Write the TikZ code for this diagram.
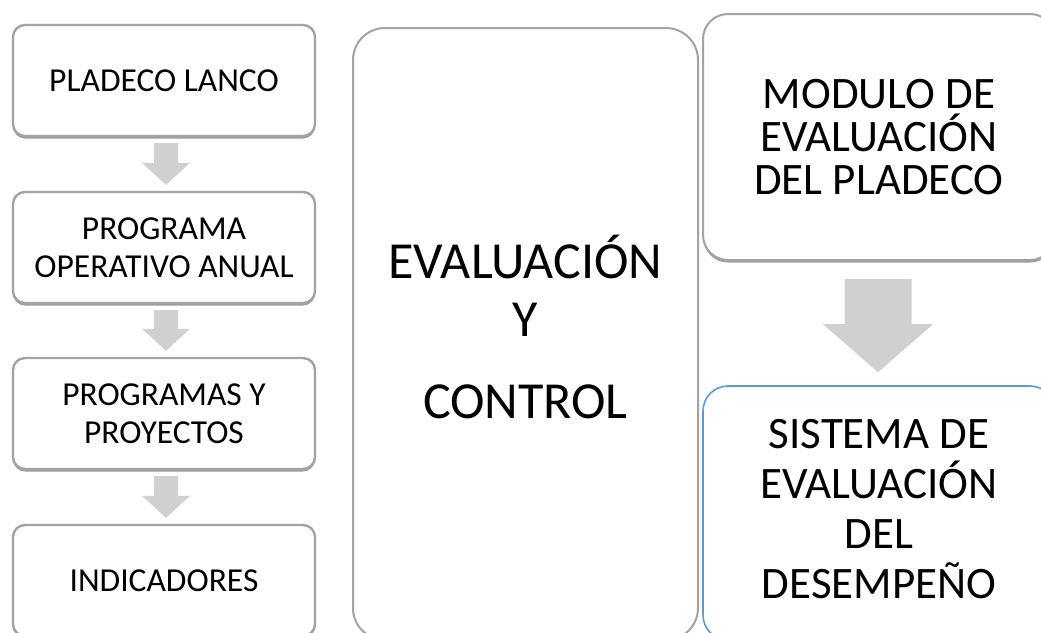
\documentclass[tikz,border=0pt]{standalone}
\usepackage{fontspec}
\setmainfont{Carlito}
\usetikzlibrary{calc,shadows}
\definecolor{boxgray}{RGB}{163,163,163}
\definecolor{arrowgray}{RGB}{208,208,208}
\definecolor{boxblue}{RGB}{91,155,213}
\tikzset{
  shad/.style={drop shadow={shadow xshift=0pt,shadow yshift=-2.5pt,fill=black!38,opacity=1}},
  leftbox/.style={draw=boxgray, line width=2.4pt, fill=white, rounded corners=12pt,
    minimum width=302pt, minimum height=111pt, inner sep=0pt, align=center,
    font=\fontsize{33.5}{38}\selectfont, shad},
  midbox/.style={draw=boxgray, line width=2pt, fill=white, rounded corners=32pt,
    minimum width=345pt, minimum height=612pt, inner sep=0pt},
  midtext/.style={align=center, inner sep=0pt, font=\fontsize{52}{58}\selectfont},
  rtbox/.style={draw=boxgray, line width=2pt, fill=white, rounded corners=25pt,
    minimum width=352pt, minimum height=246pt, inner sep=0pt, align=center,
    font=\fontsize{45}{43}\selectfont, shad},
  rbbox/.style={draw=boxblue, line width=1.6pt, fill=white, rounded corners=25pt,
    minimum width=352pt, minimum height=254pt, inner sep=0pt, align=center,
    font=\fontsize{45}{50}\selectfont},
  blockarrow/.style={fill=arrowgray, draw=none}
}
% #1 from, #2 to, #3 half shaft, #4 half head, #5 head length, #6 x offset, #7 top gap, #8 bottom gap
\newcommand\blockarr[8]{%
  \fill[blockarrow] let \p1=(#1.south), \p2=(#2.north) in
    (\x1+#6pt-#3pt, \y1-#7pt) -- (\x1+#6pt+#3pt, \y1-#7pt) --
    (\x1+#6pt+#3pt, \y2+#8pt+#5pt) -- (\x1+#6pt+#4pt, \y2+#8pt+#5pt) --
    (\x1+#6pt, \y2+#8pt) --
    (\x1+#6pt-#4pt, \y2+#8pt+#5pt) -- (\x1+#6pt-#3pt, \y2+#8pt+#5pt) -- cycle;}
\begin{document}
\begin{tikzpicture}[x=1pt,y=-1pt]
\useasboundingbox (0,0) rectangle (1041,632);
\clip (0,0) rectangle (1041,632);
\fill[white] (0,0) rectangle (1041,632);
% left column
\node[leftbox] (b1) at (164,80.5) {PLADECO LANCO};
\node[leftbox] (b2) at (164,247.5) {PROGRAMA\\OPERATIVO ANUAL};
\node[leftbox] (b3) at (164,413.5) {PROGRAMAS Y\\PROYECTOS};
\node[leftbox] (b4) at (164,580.5) {INDICADORES};
\blockarr{b1}{b2}{12}{24}{22}{2}{6}{6}
\blockarr{b2}{b3}{12}{24}{22}{2}{6}{6}
\blockarr{b3}{b4}{12}{24}{22}{2}{6}{6}
% middle
\node[midbox] (mid) at (525.5,334) {};
\node[midtext] (midlabel) at ($(mid.center)+(0,-7)$) {EVALUACIÓN\\Y\\[24pt]CONTROL};
% right column
\node[rtbox] (rt) at (879,137) {MODULO DE\\EVALUACIÓN\\DEL PLADECO};
\node[rbbox] (rb) at (879,513) {SISTEMA DE\\EVALUACIÓN\\DEL\\DESEMPEÑO\rule[-8pt]{0pt}{8pt}};
\blockarr{rt}{rb}{33.5}{55}{48}{-1}{18}{13}
\end{tikzpicture}
\end{document}
